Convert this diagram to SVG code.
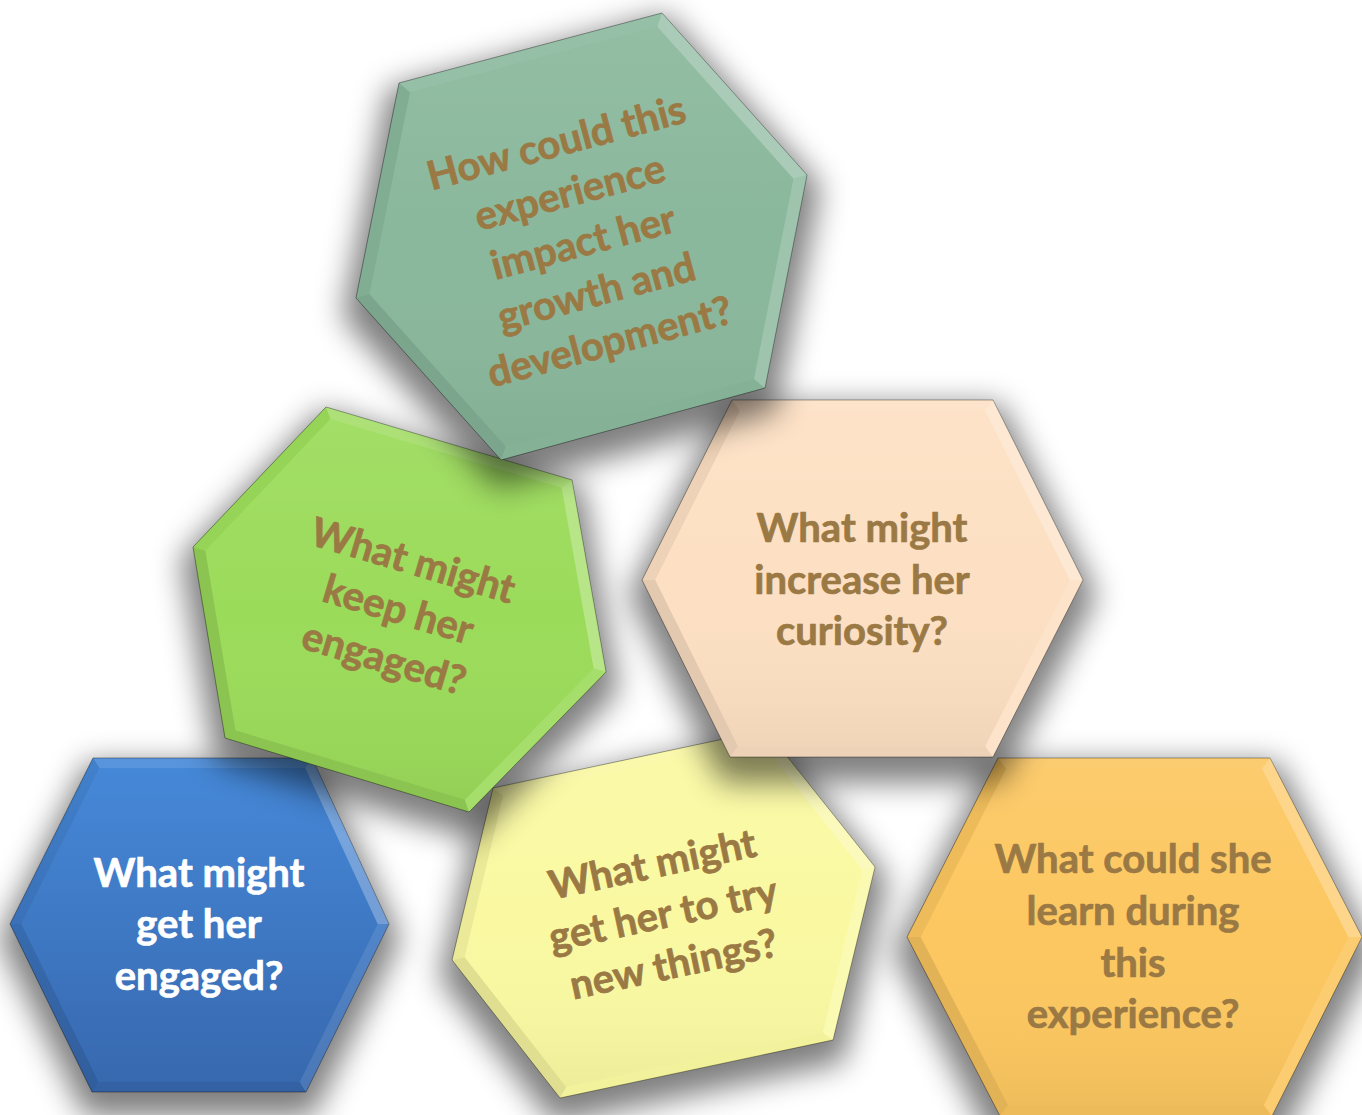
<svg xmlns="http://www.w3.org/2000/svg" width="1362" height="1115" viewBox="0 0 1362 1115">
  <defs>
    <filter id="soft" x="-30%" y="-30%" width="160%" height="160%">
      <feGaussianBlur stdDeviation="14"/>
    </filter>
    <linearGradient id="sheen" x1="0" y1="0" x2="0" y2="1">
      <stop offset="0" stop-color="#fff" stop-opacity="0.08"/>
      <stop offset="0.5" stop-color="#fff" stop-opacity="0"/>
      <stop offset="1" stop-color="#000" stop-opacity="0.05"/>
    </linearGradient>
    <linearGradient id="blueFill" x1="0" y1="0" x2="0" y2="1">
      <stop offset="0" stop-color="#4689D9"/>
      <stop offset="1" stop-color="#3768AE"/>
    </linearGradient>
    <style>
      .shadow { fill: #000; opacity: 0.5; filter: url(#soft); }
      .edge { stroke: #000; stroke-opacity: 0.38; stroke-width: 1; }
      .hi1 { fill: #fff; fill-opacity: 0.28; }
      .hi2 { fill: #fff; fill-opacity: 0.18; }
      .hi3 { fill: #fff; fill-opacity: 0.10; }
      .lo1 { fill: #000; fill-opacity: 0.10; }
      .lo2 { fill: #000; fill-opacity: 0.06; }
      .lo3 { fill: #000; fill-opacity: 0.03; }
      .sheen { fill: url(#sheen); }
      .label { font-family: Lato, "Open Sans", "Liberation Sans", sans-serif; font-weight: 700; font-size: 40px; fill: #9A7944; stroke: #9A7944; stroke-width: 0.7px; text-anchor: middle; }
      .label.white { fill: #ffffff; stroke: #ffffff; }
    </style>
  </defs>

  <rect width="1362" height="1115" fill="#ffffff"/>

  <!-- orange: learning -->
  <g id="node-learn">
    <polygon class="shadow" points="907,937 998,758 1270,758 1362,937 1272,1116 1000,1116" transform="translate(1135,952) scale(1.06) translate(-1135,-937)"/>
    <polygon class="edge" fill="#FCC760" points="907,937 998,758 1270,758 1362,937 1272,1116 1000,1116"/>
    <polygon class="lo2" points="907,937 998,758 1006.2,768.7 920.7,937"/>
    <polygon class="hi3" points="998,758 1270,758 1261.9,768.7 1006.2,768.7"/>
    <polygon class="hi1" points="1270,758 1362,937 1348.4,937 1261.9,768.7"/>
    <polygon class="hi3" points="1362,937 1272,1116 1263.8,1105.3 1348.4,937"/>
    <polygon class="lo2" points="1272,1116 1000,1116 1008.1,1105.3 1263.8,1105.3"/>
    <polygon class="lo1" points="1000,1116 907,937 920.7,937 1008.1,1105.3"/>
    <polygon class="sheen" points="920.7,937 1006.2,768.7 1261.9,768.7 1348.4,937 1263.8,1105.3 1008.1,1105.3"/>
    <text class="label"><tspan x="1133" y="873">What could she</tspan><tspan x="1133" y="925">learn during</tspan><tspan x="1133" y="977">this</tspan><tspan x="1133" y="1028">experience?</tspan></text>
  </g>

  <!-- yellow: trying new things -->
  <g id="node-try">
    <polygon class="shadow" points="452,960 493,788 766,730 875,867 833,1040 560,1098" transform="translate(663,929) scale(1.06) translate(-663,-914)"/>
    <polygon class="edge" fill="#FAF9A2" points="452,960 493,788 766,730 875,867 833,1040 560,1098"/>
    <polygon class="lo2" points="452,960 493,788 503.2,795.5 464.7,957.2"/>
    <polygon class="hi3" points="493,788 766,730 759.8,741 503.2,795.5"/>
    <polygon class="hi1" points="766,730 875,867 862.3,869.8 759.8,741"/>
    <polygon class="hi2" points="875,867 833,1040 822.8,1032.4 862.3,869.8"/>
    <polygon class="lo3" points="833,1040 560,1098 566.2,1086.9 822.8,1032.4"/>
    <polygon class="lo1" points="560,1098 452,960 464.7,957.2 566.2,1086.9"/>
    <polygon class="sheen" points="464.7,957.2 503.2,795.5 759.8,741 862.3,869.8 822.8,1032.4 566.2,1086.9"/>
    <g transform="translate(663,914) rotate(-12)">
      <text class="label"><tspan x="0" y="-37">What might</tspan><tspan x="0" y="14">get her to try</tspan><tspan x="0" y="65">new things?</tspan></text>
    </g>
  </g>

  <!-- blue: getting engaged -->
  <g id="node-engage">
    <polygon class="shadow" points="10,924 93,758 312,758 389,924 306,1092 92,1092" transform="translate(200,939) scale(1.06) translate(-200,-924)"/>
    <polygon class="edge" fill="url(#blueFill)" points="10,924 93,758 312,758 389,924 306,1092 92,1092"/>
    <polygon class="lo2" points="10,924 93,758 99.4,768 21.4,924"/>
    <polygon class="hi3" points="93,758 312,758 305.3,768 99.4,768"/>
    <polygon class="hi1" points="312,758 389,924 377.7,924 305.3,768"/>
    <polygon class="hi3" points="389,924 306,1092 299.7,1082 377.7,924"/>
    <polygon class="lo2" points="306,1092 92,1092 98.5,1082 299.7,1082"/>
    <polygon class="lo1" points="92,1092 10,924 21.4,924 98.5,1082"/>
    <text class="label white"><tspan x="199" y="887">What might</tspan><tspan x="199" y="938">get her</tspan><tspan x="199" y="990">engaged?</tspan></text>
  </g>

  <!-- green: keeping engaged -->
  <g id="node-keep">
    <polygon class="shadow" points="193,547 326,407 572,480 606,672 469,812 225,738" transform="translate(398,624) scale(1.06) translate(-398,-609)"/>
    <polygon class="edge" fill="#9BDB5A" points="193,547 326,407 572,480 606,672 469,812 225,738"/>
    <polygon class="lo3" points="193,547 326,407 330.4,419.1 205.3,550.7"/>
    <polygon class="hi2" points="326,407 572,480 561.6,487.8 330.4,419.1"/>
    <polygon class="hi1" points="572,480 606,672 593.5,668.2 561.6,487.8"/>
    <polygon class="hi3" points="606,672 469,812 464.8,799.8 593.5,668.2"/>
    <polygon class="lo1" points="469,812 225,738 235.4,730.3 464.8,799.8"/>
    <polygon class="lo1" points="225,738 193,547 205.3,550.7 235.4,730.3"/>
    <polygon class="sheen" points="205.3,550.7 330.4,419.1 561.6,487.8 593.5,668.2 464.8,799.8 235.4,730.3"/>
    <g transform="translate(398.5,609.3) rotate(16.5)">
      <text class="label"><tspan x="0" y="-37">What might</tspan><tspan x="0" y="14">keep her</tspan><tspan x="0" y="65">engaged?</tspan></text>
    </g>
  </g>

  <!-- peach: curiosity -->
  <g id="node-curiosity">
    <polygon class="shadow" points="642,580 732,400 993,400 1083,580 993,757 730,757" transform="translate(862,594) scale(1.06) translate(-862,-579)"/>
    <polygon class="edge" fill="#FDE0C3" points="642,580 732,400 993,400 1083,580 993,757 730,757"/>
    <polygon class="lo2" points="642,580 732,400 739.8,410.7 655.2,579.9"/>
    <polygon class="hi3" points="732,400 993,400 985.2,410.7 739.8,410.7"/>
    <polygon class="hi1" points="993,400 1083,580 1069.8,580 985.2,410.7"/>
    <polygon class="hi3" points="1083,580 993,757 985.2,746.3 1069.8,580"/>
    <polygon class="lo2" points="993,757 730,757 738,746.3 985.2,746.3"/>
    <polygon class="lo1" points="730,757 642,580 655.2,579.9 738,746.3"/>
    <polygon class="sheen" points="655.2,579.9 739.8,410.7 985.2,410.7 1069.8,580 985.2,746.3 738,746.3"/>
    <text class="label"><tspan x="862" y="542">What might</tspan><tspan x="862" y="594">increase her</tspan><tspan x="862" y="645">curiosity?</tspan></text>
  </g>

  <!-- teal: growth and development -->
  <g id="node-growth">
    <polygon class="shadow" points="356,298 399,83 662,13 807,175 765,388 501,460" transform="translate(582,251) scale(1.06) translate(-582,-236)"/>
    <polygon class="edge" fill="#8AB89C" points="356,298 399,83 662,13 807,175 765,388 501,460"/>
    <polygon class="hi3" points="399,83 662,13 657.2,26.4 410,92.2"/>
    <polygon class="hi1" points="662,13 807,175 793.5,178.7 657.2,26.4"/>
    <polygon class="hi2" points="807,175 765,388 754,378.9 793.5,178.7"/>
    <polygon class="lo3" points="765,388 501,460 505.8,446.6 754,378.9"/>
    <polygon class="lo1" points="501,460 356,298 369.5,294.3 505.8,446.6"/>
    <polygon class="lo2" points="356,298 399,83 410,92.2 369.5,294.3"/>
    <polygon class="sheen" points="369.5,294.3 410,92.2 657.2,26.4 793.5,178.7 754,378.9 505.8,446.6"/>
    <g transform="translate(583,242) rotate(-15)">
      <text class="label"><tspan x="0" y="-89">How could this</tspan><tspan x="0" y="-37.5">experience</tspan><tspan x="0" y="14">impact her</tspan><tspan x="0" y="65.5">growth and</tspan><tspan x="0" y="117">development?</tspan></text>
    </g>
  </g>
</svg>
